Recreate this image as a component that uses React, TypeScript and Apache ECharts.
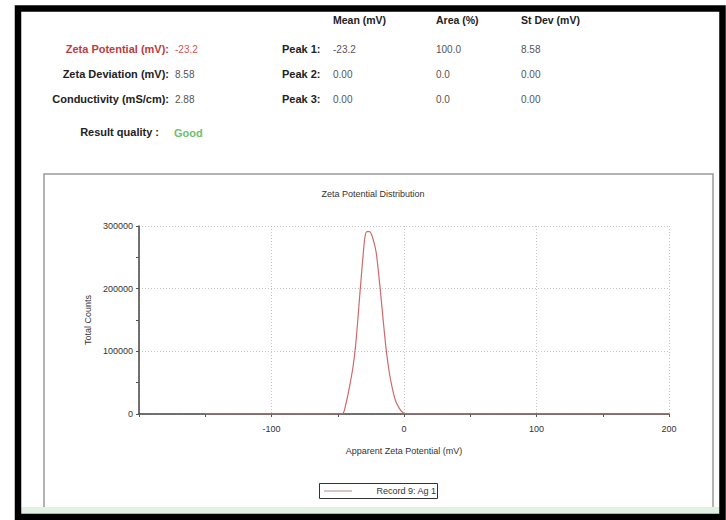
import React, { useEffect, useRef } from "react";
import * as echarts from "echarts";

// Distribution curve (Apparent Zeta Potential in mV vs Total Counts)
const zetaMv = [-150, -47, -44, -41, -38.5, -36.5, -34.5, -33, -31, -29.5, -28, -26, -23.5, -21, -18, -15.5, -13.3, -11, -9, -6.5, -3.5, -1, 1.5, 200];
const totalCounts = [0, 0, 15000, 45000, 75000, 110000, 160000, 200000, 250000, 282000, 291000, 291000, 280000, 258000, 200000, 145000, 100000, 65000, 43000, 22000, 9000, 2500, 0, 0];

const xTicks = [-100, 0, 100, 200];
const yTicks = [0, 100000, 200000, 300000];

const summaryLabels = ["Zeta Potential (mV):", "Zeta Deviation (mV):", "Conductivity (mS/cm):"];
const summaryValues = ["-23.2", "8.58", "2.88"];
const peakLabels = ["Peak 1:", "Peak 2:", "Peak 3:"];
const columnHeaders = ["Mean (mV)", "Area (%)", "St Dev (mV)"];
const peakMeans = ["-23.2", "0.00", "0.00"];
const peakAreas = ["100.0", "0.0", "0.0"];
const peakStDevs = ["8.58", "0.00", "0.00"];
const resultQuality = "Good";
const seriesName = "Record 9: Ag 1";

const FONT = "'Liberation Sans', Arial, sans-serif";

export default function App() {
  const ref = useRef<HTMLDivElement>(null);
  useEffect(() => {
    if (!ref.current) return;
    const chart = echarts.init(ref.current, null, { renderer: "svg" });
    const rowY = [49, 74, 99];
    const colX = [333, 436, 521];
    const graphics: any[] = [];
    // outer frame
    graphics.push({ type: "rect", shape: { x: 18, y: 8.5, width: 704.5, height: 508.5 }, style: { fill: "none", stroke: "#000", lineWidth: 6.5 }, z: 10 });
    // inner chart box
    graphics.push({ type: "rect", shape: { x: 44, y: 174, width: 669, height: 340 }, style: { fill: "none", stroke: "#9a9a9a", lineWidth: 1.5 }, z: 1 });
    // green stripe
    graphics.push({ type: "rect", shape: { x: 21, y: 507, width: 698, height: 7 }, style: { fill: "#dff2e3" }, z: 2 });
    summaryLabels.forEach((t, i) => {
      graphics.push({ type: "text", x: 169, y: rowY[i], style: { text: t, font: `bold 11px ${FONT}`, fill: i === 0 ? "#c0393b" : "#222", textAlign: "right", textVerticalAlign: "middle" } });
      graphics.push({ type: "text", x: 175, y: rowY[i], style: { text: summaryValues[i], font: `10px ${FONT}`, fill: i === 0 ? "#cc5555" : "#555", textAlign: "left", textVerticalAlign: "middle" } });
      graphics.push({ type: "text", x: 282, y: rowY[i], style: { text: peakLabels[i], font: `bold 11px ${FONT}`, fill: "#222", textAlign: "left", textVerticalAlign: "middle" } });
      graphics.push({ type: "text", x: colX[0], y: rowY[i], style: { text: peakMeans[i], font: `10px ${FONT}`, fill: "#555", textAlign: "left", textVerticalAlign: "middle" } });
      graphics.push({ type: "text", x: colX[1], y: rowY[i], style: { text: peakAreas[i], font: `10px ${FONT}`, fill: "#555", textAlign: "left", textVerticalAlign: "middle" } });
      graphics.push({ type: "text", x: colX[2], y: rowY[i], style: { text: peakStDevs[i], font: `10px ${FONT}`, fill: "#555", textAlign: "left", textVerticalAlign: "middle" } });
    });
    columnHeaders.forEach((t, i) => {
      graphics.push({ type: "text", x: colX[i], y: 20, style: { text: t, font: `bold 10.5px ${FONT}`, fill: "#222", textAlign: "left", textVerticalAlign: "middle" } });
    });
    graphics.push({ type: "text", x: 159, y: 132, style: { text: "Result quality :", font: `bold 11px ${FONT}`, fill: "#222", textAlign: "right", textVerticalAlign: "middle" } });
    graphics.push({ type: "text", x: 174, y: 133, style: { text: resultQuality, font: `bold 11px ${FONT}`, fill: "#6cc070", textAlign: "left", textVerticalAlign: "middle" } });
    // chart title
    graphics.push({ type: "text", x: 373, y: 194, style: { text: "Zeta Potential Distribution", font: `9px ${FONT}`, fill: "#333", textAlign: "center", textVerticalAlign: "middle" } });
    // legend box
    graphics.push({ type: "rect", shape: { x: 319.5, y: 483.5, width: 118, height: 15 }, style: { fill: "#fff", stroke: "#333", lineWidth: 1 }, z: 3 });
    graphics.push({ type: "line", shape: { x1: 324, y1: 491, x2: 352, y2: 491 }, style: { stroke: "#b08888", lineWidth: 1 }, z: 4 });
    graphics.push({ type: "text", x: 436, y: 491, style: { text: seriesName, font: `9px ${FONT}`, fill: "#333", textAlign: "right", textVerticalAlign: "middle" }, z: 4 });

    chart.setOption({
      animation: false,
      backgroundColor: "#fff",
      grid: { left: 139, top: 226, width: 530, height: 188, containLabel: false },
      xAxis: {
        type: "value",
        min: -200,
        max: 200,
        interval: 100,
        name: "Apparent Zeta Potential (mV)",
        nameLocation: "middle",
        nameGap: 32,
        nameTextStyle: { fontSize: 9, color: "#333", fontFamily: FONT },
        axisLine: { onZero: false, lineStyle: { color: "#444", width: 1.5 } },
        axisTick: { show: true, length: 3, lineStyle: { color: "#555" } },
        minorTick: { show: true, splitNumber: 2, length: 3, lineStyle: { color: "#555" } },
        axisLabel: {
          fontSize: 9, color: "#333", fontFamily: FONT, margin: 10,
          formatter: (v: number) => (xTicks.includes(v) ? String(v) : ""),
        },
        splitLine: { show: true, lineStyle: { color: "#c4c4c4", type: [1, 2], width: 1 } },
      },
      yAxis: {
        type: "value",
        min: 0,
        max: 300000,
        interval: 100000,
        name: "Total Counts",
        nameLocation: "middle",
        nameGap: 44,
        nameTextStyle: { fontSize: 9, color: "#333", fontFamily: FONT },
        axisLine: { show: true, onZero: false, lineStyle: { color: "#444", width: 1.5 } },
        axisTick: { show: true, length: 3, lineStyle: { color: "#555" } },
        minorTick: { show: true, splitNumber: 2, length: 3, lineStyle: { color: "#555" } },
        axisLabel: {
          fontSize: 9, color: "#333", fontFamily: FONT, margin: 6,
          formatter: (v: number) => (yTicks.includes(v) ? String(v) : ""),
        },
        splitLine: { show: true, lineStyle: { color: "#c4c4c4", type: [1, 2], width: 1 } },
      },
      series: [
        {
          name: seriesName,
          type: "line",
          data: zetaMv.map((x, i) => [x, totalCounts[i]]),
          smooth: 0.3,
          showSymbol: false,
          lineStyle: { color: "#d06a6a", width: 1.2 },
          z: 3,
        },
      ],
      graphic: graphics,
    });
    return () => chart.dispose();
  }, []);
  return <div ref={ref} style={{ position: "fixed", left: 0, top: 0, width: 726, height: 520 }} />;
}
